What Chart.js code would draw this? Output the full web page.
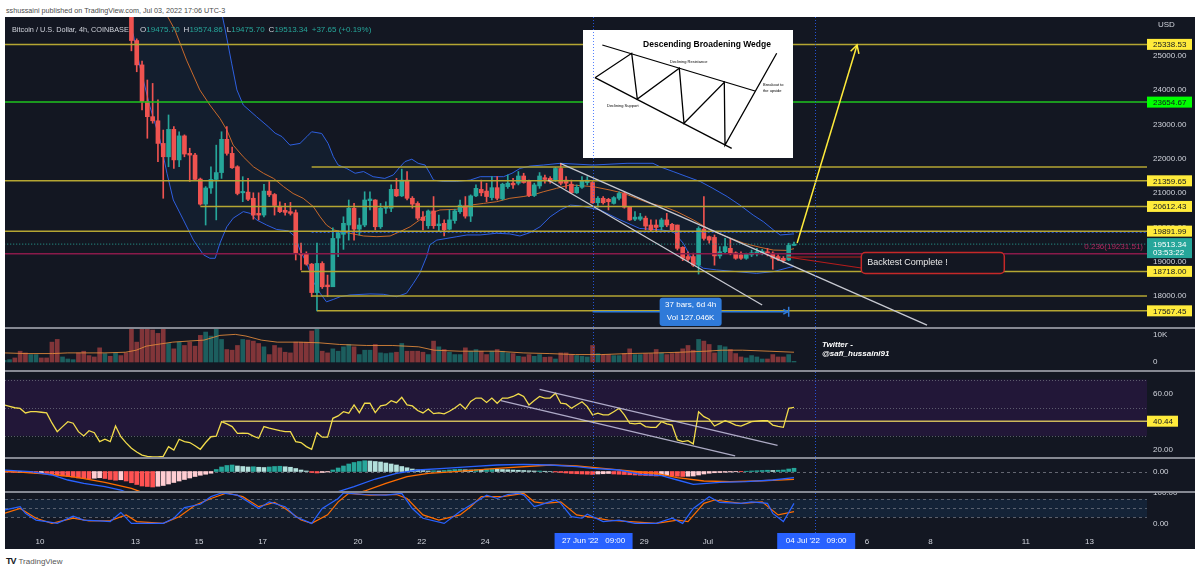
<!DOCTYPE html>
<html>
<head>
<meta charset="utf-8">
<title>BTCUSD 4h - Descending Broadening Wedge</title>
<script src="https://cdn.jsdelivr.net/npm/chart.js@4.4.1/dist/chart.umd.min.js"></script>
<style>
  html, body { margin: 0; padding: 0; width: 1200px; height: 573px; overflow: hidden; background: #fff; font-family: "Liberation Sans", Arial, sans-serif; }
  .abs { position: absolute; white-space: nowrap; z-index: 5; }
  #panel { position: absolute; left: 5px; top: 17px; width: 1190px; height: 532px; background: #131722; }
  canvas { position: absolute; left: 5px; }
  .sep { position: absolute; left: 5px; width: 1190px; height: 2px; background: #868993; }
  #pub { left: 6px; top: 6px; font-size: 7.2px; color: #4a4a4a; }
  #title { left: 12px; top: 25px; font-size: 7.3px; color: #d1d4dc; }
  #ohlc { left: 140px; top: 25px; font-size: 8px; color: #d1d4dc; }
  #ohlc b { font-weight: normal; color: #26a69a; margin-right: 4px; }
  #usd { left: 1158px; top: 20px; font-size: 8px; color: #d1d4dc; }
  #tw { left: 822px; top: 341px; font-size: 8px; line-height: 8.5px; color: #fff; font-weight: bold; font-style: italic; }
  #foot { left: 6px; top: 556px; font-size: 8px; color: #555; }
  #foot b { color: #131722; font-size: 9px; letter-spacing: -1px; margin-right: 3px; }
</style>
</head>
<body>
<div class="abs" id="pub">sshussaini published on TradingView.com, Jul 03, 2022 17:06 UTC-3</div>
<div id="panel"></div>
<canvas id="cMain" width="1189" height="310" style="top:17px"></canvas>
<div class="sep" style="top:327px"></div>
<canvas id="cVol" width="1189" height="41" style="top:329px"></canvas>
<div class="sep" style="top:370px"></div>
<canvas id="cRsi" width="1189" height="85" style="top:372px"></canvas>
<div class="sep" style="top:457px"></div>
<canvas id="cMacd" width="1189" height="32" style="top:459px"></canvas>
<div class="sep" style="top:491px"></div>
<canvas id="cStoch" width="1189" height="56" style="top:493px"></canvas>
<div class="abs" id="title">Bitcoin / U.S. Dollar, 4h, COINBASE</div>
<div class="abs" id="ohlc"></div>
<div class="abs" id="usd">USD</div>
<div class="abs" id="tw">Twitter -<br>@safi_hussaini91</div>
<div class="abs" id="foot"><b>TV</b>TradingView</div>
<script>
// bar index 0 = Jun 8 21:00 (UTC-3), one bar per 4h
const firstCandle = 24; // Jun 12 21:00

const opens = [26300,25450,24740,23670,23230,23110,22450,22060,22860,21970,22670,22160,22110,21410,20680,21150,21400,21600,22570,22160,21770,21010,21030,20850,20410,20360,21060,20960,20620,20500,20460,20430,19240,19240,18930,18100,18950,18320,18270,
  19690,19800,20070,20560,19950,20070,20780,20800,20020,20560,20560,21110,20920,21380,20850,20700,20300,20050,20480,20050,20120,19950,20200,20460,20630,20330,20920,21110,21060,20870,21160,20830,21190,21290,21290,21500,21350,20930,21210,21450,21430,21380,21720,
  21380,21260,21010,21170,21310,21310,20720,20850,20820,20700,20850,20990,20590,20240,20240,20270,20070,20070,20020,20220,20090,20070,19420,19150,19150,18900,19950,19730,19710,19170,19290,19390,19260,19200,19100,19200,19230,19250,19290,19250,19150,19100,19050,19475.70];
const highs = [26600,25500,24850,24300,24200,23720,22840,23280,22940,22790,22700,22310,22160,21440,21190,21770,22400,22790,22940,22340,21800,21480,21430,21010,21010,21260,21340,20990,20750,20700,20730,20510,19540,19290,18950,19540,19000,18610,19990,
  19900,20310,20800,20700,20270,21040,21040,20810,20700,20750,21240,21430,21700,21630,20900,20750,20460,20510,20900,20360,20220,20510,20530,20800,20900,20950,21240,21380,21290,21480,21480,21290,21530,21430,21630,21580,21380,21290,21600,21530,21480,21750,21870,
  21480,21380,21240,21480,21480,21340,20900,20900,20850,20900,21040,21040,20610,20460,20410,20330,20220,20220,20270,20410,20120,20070,19440,19290,19250,20020,20900,19750,19780,19440,19680,19680,19290,19290,19250,19340,19390,19360,19390,19290,19200,19150,19540,19574.86];
const lows = [25150,24540,23430,22600,23040,21920,20850,21770,21720,21770,22060,21340,21380,20650,20070,20990,20220,21430,22110,21720,20950,20750,20780,20240,20220,20310,20900,20360,20430,20360,20360,19050,18760,18900,17980,17567.45,18220,17980,18270,
  19150,19360,19630,19630,19780,20020,20510,19930,19970,20410,20460,20900,20900,20800,20560,20220,19930,19970,19970,19880,19750,19930,20120,20410,20270,20170,20900,20920,20750,20800,20800,20800,21140,21140,21240,21290,20900,20900,21140,21290,21290,21340,21240,
  21140,20990,20990,21140,21240,20700,20590,20680,20510,20680,20800,20560,20200,20200,20200,19930,19880,19880,19930,20020,19880,19340,19030,19000,18860,18640,19630,19540,18900,19100,19260,19200,19070,19070,19070,19150,19170,19200,19170,18780,19030,18970,19030,19475.70];
const closes = [25450,24740,23670,23230,23110,22450,22060,22860,21970,22670,22140,22110,21400,20680,21150,21400,21600,22570,22160,21740,20990,21050,20820,20360,20360,21060,20950,20640,20460,20440,20410,19240,19200,18930,18100,18950,18270,18270,19680,
  19840,20120,20560,19950,20070,20800,20830,20020,20560,20610,21110,20920,21380,20850,20680,20270,20200,20480,20050,20100,19930,20220,20480,20650,20330,20920,21140,21010,20900,21160,20850,21260,21290,21240,21500,21310,20930,21240,21500,21400,21340,21720,21290,
  21290,21010,21170,21360,21380,20720,20850,20720,20750,20870,20990,20590,20220,20300,20310,20040,19930,20000,20220,20070,19930,19390,19100,19070,18900,19970,19680,19630,19170,19290,19440,19250,19100,19100,19230,19260,19290,19310,19230,19100,19070,19030,19475.69,19513.34];

const volumes = [620,870,1500,4000,3370,2750,2750,1500,1500,7360, 8360,1870,1120,870,3370,4000,2370,1870,5240,3120,
  2120,3370,2370,3370,15000,7360,15000,15000,11860,10600, 15000,6860,4870,7360,6120,7360,5870,9860,11100,9610,
  14000,8360,4620,4370,6120,8360,8110,7740,6860,5620, 2750,6120,5240,3620,3370,7360,7360,7360,11480,14000,
  4000,3370,4870,4000,5620,6490,5620,2750,4370,4370, 6490,3370,3120,3370,3620,6860,4000,4000,4000,3620,
  2750,7740,5620,4620,3620,2750,2750,5240,4000,4620, 4000,2750,4000,4620,4000,3370,3120,2120,1870,2750,
  2120,2750,1750,1870,1120,3370,3370,2750,2370,2120, 1870,6120,3120,2750,2750,2370,2370,3120,4870,2750,
  2750,3120,3120,4620,3370,2750,3120,3620,4870,6120, 4370,8360,7740,6490,3370,6120,5620,4620,3120,1870,
  1500,2370,1870,1120,1120,2750,1870,1870,2750,250];
const earlyVolUp = [1,1,0,0,0,1,1,0,0,0,0,1,1,1,0,0,0,0,0,1,0,1,0,0];
const volMa = [[0,3370],[4.1,3120],[9.1,3120],[12,3370],[19,3370],[22.9,3620],[24.9,4370],[26.8,5870],[28.8,6490],[31.8,7360],[34.7,7740],[37.7,8110],[40.7,9860],[43.6,10230],[45.6,9610],[48.5,8110],[51.5,7360],[55.5,7360],[59.4,7110],[63.3,6490],[68.3,6120],[73.2,6120],[78.2,5620],[81.1,4370],[86,4000],[93,4000],[97.9,3370],[102.8,3120],[107.8,2750],[112.7,2750],[117.6,3120],[123.5,3370],[127.5,3620],[132.4,4000],[135.4,4370],[139.3,4370],[144.3,4000],[149,3620]];

const bbUpper = [[24.3,27800],[33,27000],[38,26500],[41.1,26200],[41.7,25760],[42.9,24790],[43.9,24010],[45.1,23570],[47.6,23230],[49.8,22940],[51.1,22750],[52.4,22650],[53.9,22400],[55.8,22450],[57.1,22650],[58,22790],[59.9,22740],[61.1,22450],[62.1,22060],[63,21820],[64.6,21720],[66.2,21580],[67.8,21630],[69.6,21480],[71.8,21430],[73.4,21530],[74.7,21770],[75.6,21920],[76.9,21990],[78.1,21870],[79.4,21820],[80.3,21580],[81,21380],[82.8,21340],[85.4,21340],[87.9,21380],[89.8,21480],[92.3,21480],[94.2,21480],[95.8,21580],[97.3,21720],[99.2,21790],[101.7,21820],[104.9,21870],[111.1,21820],[117.5,21870],[122.4,21870],[123.7,21770],[126.2,21630],[128.8,21480],[131.3,21340],[133.7,21140],[136.4,20900],[138.8,20650],[141.3,20360],[143.2,20170],[145.1,19930],[146.4,19780],[148.8,19810],[149,19810]];
const bbLower = [[24.3,25660],[24.7,25370],[25.6,24690],[27.5,23520],[29.4,22550],[30.7,21580],[31.9,20800],[33.8,20220],[35.7,19630],[37.6,19200],[38.8,19100],[39.8,19100],[40.7,19540],[42,20020],[43.2,20270],[45.1,20460],[46.4,20410],[47.6,20220],[49.5,20070],[51.4,19940],[53.6,19900],[54.9,19730],[55.8,19340],[57.1,18950],[58.3,18420],[59.6,18080],[60.8,17830],[62.1,17900],[63.4,17980],[65.2,18030],[69,18060],[71.5,18050],[74,17980],[75.9,18080],[77.2,18370],[78.4,18660],[79.7,19150],[80.3,19490],[81.6,19630],[85.4,19730],[87.3,19780],[89.8,19780],[92.9,19830],[95.4,19810],[97.3,19750],[99.2,19850],[101.1,20020],[103,20310],[104.9,20510],[106.8,20650],[108.6,20630],[112.4,20510],[116.2,20220],[119.9,19970],[123.7,19930],[126.2,19880],[128.1,19540],[130,19000],[131.9,18810],[134.4,18760],[138.2,18710],[141.9,18660],[145.1,18710],[148.3,18840],[149,18860]];
const bbBasis = [[30.3,26300],[32.2,25760],[34.4,24880],[36.9,24010],[38.8,23570],[40.7,23180],[42,22840],[43.2,22400],[45.1,22060],[47,21770],[48.9,21580],[50.8,21430],[52.7,21190],[54.5,20990],[56.4,20850],[58.3,20610],[59.6,20310],[60.8,20070],[62.1,19930],[63.4,19880],[65.2,19830],[67.8,19750],[70.3,19730],[72.8,19750],[74.7,19880],[76.6,20020],[78.4,20220],[80.3,20410],[82.2,20510],[85.4,20530],[87.9,20650],[90.4,20700],[92.9,20750],[95.4,20850],[97.9,20900],[99.8,20950],[101.7,21040],[104.2,21140],[106.8,21240],[111.1,21190],[114.3,21090],[116.8,21000],[119.3,20850],[121.8,20700],[124.4,20610],[126.9,20460],[130,20220],[133.2,19930],[136.3,19730],[139.5,19540],[142.6,19420],[145.1,19340],[147.6,19330],[149,19380]];

const rsi = [52,51,50,49.5,46.3,47.2,47.2,46.8,46.3,39.2, 33,36.6,40.1,39,33,30,33.7,32.3,25.9,27.6,
  25.9,37,29.4,25,21.2,18.5,16.4,15.5,15,15, 15.5,22.4,20,27.6,26,25.3,23,20.5,25.3,29.4,
  29.8,40.1,38.5,36.6,31.8,32,31.8,29.8,28.3,36.6, 35.5,34.7,33.7,33,33,25.9,25.3,22.4,20.5,32.3,
  29.1,29.1,42.5,44.2,47.2,46.1,52,46.5,53.2,53.2, 46.5,51.3,52,55,53.6,57.4,52,51.3,48,46.3,
  49.1,45.8,46.3,45.6,47.5,49.8,52.6,49.1,54.5,56.9, 56.9,53.8,56.9,53.2,56.9,56.9,58,59.9,58,52,
  55.2,58,56.9,56.9,60.3,53.2,52.7,49.6,52,54.3, 50.8,44.9,46.1,44.9,44.9,47.2,49.6,44.9,39,38.5,
  39,36.6,36.1,36.1,40.1,38.5,37.7,27.1,25.9,26.6, 24.3,47.2,43.7,41.8,37,38.9,40.8,39.4,37.7,37,
  38.5,40.1,40.5,40.8,40.8,37.7,36.8,36.1,49.6,50.2];

const macdHist = [-20,-30,-40,-30,-40,-50,-60,-50,-70,-120, -150,-180,-200,-220,-260,-280,-300,-270,-250,-280,
  -320,-350,-330,-380,-450,-520,-580,-600,-620,-590, -560,-500,-440,-380,-320,-260,-200,-150,-110,-70,
  80,180,240,260,220,200,180,190,170,160, 180,200,210,190,170,120,60,20,-40,-60,
  -40,-20,60,140,220,300,360,400,430,420, 400,380,340,300,260,200,150,100,70,40,
  20,30,20,40,60,80,90,70,60,80, 70,100,110,90,80,70,60,50,40,30,
  20,20,10,0,-20,-40,-60,-80,-90,-100, -110,-120,-100,-90,-80,-100,-110,-120,-130,-140,
  -150,-160,-170,-180,-160,-150,-170,-190,-200,-190, -180,-140,-100,-70,-50,-40,-30,-20,-10,-10,
  10,20,30,40,50,40,50,60,100,130];
const macdLine = [[0,60],[5,-6],[9,-140],[12,-340],[15,-473],[19,-606],[22,-740],[25,-1006],[29,-1340],[34,-1673],[39,-1740],[44,-1606],[49,-1473],[53,-1340],[58,-1140],[62,-873],[66,-606],[70,-300],[74,-73],[78,60],[83,127],[88,193],[93,260],[98,287],[103,260],[108,193],[111,127],[116,60],[120,-113],[124,-167],[127,-340],[130,-513],[135,-433],[140,-406],[145,-340],[149,-246]];
const macdSignal = [[0,20],[9,-113],[14,-246],[19,-433],[24,-673],[29,-1073],[34,-1406],[39,-1606],[44,-1713],[49,-1673],[53,-1540],[58,-1340],[63,-1073],[68,-780],[72,-473],[76,-206],[80,-73],[85,-6],[93,127],[103,260],[108,220],[113,127],[118,20],[123,-73],[127,-246],[132,-380],[137,-406],[142,-380],[149,-313]];

const stochK = [[0,44],[3,55],[4,33],[6,11],[8,6],[10,0],[13,24],[15,11],[18,8],[20,6],[22,36],[24,0],[27,0],[30,0],[32,17],[34,52],[37,63],[39,88],[41,100],[44,93],[46,71],[48,49],[50,71],[53,55],[55,22],[58,0],[60,49],[63,82],[64,100],[68,95],[72,93],[75,99],[77,49],[79,17],[83,0],[86,39],[89,71],[91,93],[93,82],[95,95],[97,99],[98,93],[100,55],[101,60],[104,77],[105,66],[107,22],[109,17],[110,30],[113,6],[116,11],[119,0],[123,0],[126,17],[128,0],[130,49],[133,88],[135,69],[139,66],[141,71],[144,66],[145,33],[147,6],[149,66]];
const stochD = [[0,33],[3,49],[6,17],[9,0],[13,17],[16,8],[20,9],[23,28],[25,6],[30,0],[33,22],[36,60],[39,82],[42,100],[45,88],[48,55],[51,69],[53,49],[56,11],[58,0],[61,28],[63,71],[65,99],[69,93],[74,95],[76,82],[79,28],[82,11],[86,28],[88,55],[90,88],[94,88],[98,99],[100,71],[102,66],[105,71],[108,28],[110,22],[114,11],[118,6],[123,0],[127,11],[129,6],[132,66],[134,77],[139,66],[143,71],[146,28],[149,39]];

// time axis labels (bar index of local midnight)
const dayTicks = [6.75, 24.75, 36.75, 48.75, 66.75, 78.75, 90.75, 120.75, 132.75, 162.75, 174.75, 192.75, 204.75];
const dayLabels = ['10', '13', '15', '17', '20', '22', '24', '29', 'Jul', '6', '8', '11', '13'];
const markBars = [111, 153];
const markLabels = ["27 Jun '22   09:00", "04 Jul '22   09:00"];

// price levels drawn on the chart
const hLevels = [25338.53, 23654.67, 21760, 21359.65, 20612.43, 19891.99, 18718.00, 18000, 17567.45];
const hStart = [0, 0, 58, 0, 37, 0, 56, 58, 59];
const taggedLevels = [25338.53, 21359.65, 20612.43, 19891.99, 18718.00, 17567.45];
const greenLevel = 23654.67;
const fibLevel = 19231.51;
const priceTicks = [18000, 19000, 20000, 21000, 22000, 23000, 24000, 25000];
const rsiLevel = 40.44;

// drawings (bar index, price)
const chanUpper = [[104.9, 21870], [174.1, 17150]];
const chanLower = [[102.6, 21383], [143.0, 17738]];
const arrowPts = [[149.6, 19546], [160.9, 25320]];
const rsiChanUpper = [[101, 63.1], [145.9, 23.3]];
const rsiChanLower = [[93.7, 55], [137.9, 15.8]];
const measure = [111, 148, 17540];

// ---------------------------------------------------------------
Chart.defaults.font.family = '"Liberation Sans", Arial, sans-serif';
Chart.defaults.font.size = 8;
Chart.defaults.color = '#d1d4dc';

const X_MIN = 0.146, X_MAX = 215.6, AXIS_W = 47;
const UP = '#26a69a', DOWN = '#ef5350';
const FONT = '"Liberation Sans", Arial, sans-serif';

const pts = arr => arr.map(p => ({x: p[0], y: p[1]}));
const candleX = opens.map((o, k) => firstCandle + k);
const candleUp = opens.map((o, k) => closes[k] >= o);
const last = closes.length - 1;

// legend text
const chg = closes[last] - closes[last - 1];
document.getElementById('ohlc').innerHTML =
  'O<b>' + opens[last].toFixed(2) + '</b>H<b>' + highs[last].toFixed(2) + '</b>L<b>' + lows[last].toFixed(2) +
  '</b>C<b>' + closes[last].toFixed(2) + '</b><b>+' + chg.toFixed(2) + ' (+' + (chg / closes[last - 1] * 100).toFixed(2) + '%)</b>';

function xAxis(show) {
  return {
    type: 'linear', min: X_MIN, max: X_MAX, bounds: 'data', offset: false, display: show,
    grid: {display: false, drawTicks: false}, border: {display: false},
    afterBuildTicks: s => { s.ticks = dayTicks.map(v => ({value: v})); },
    afterFit: s => { if (show) { s.height = 16; } s.paddingLeft = 0; s.paddingRight = 0; },
    ticks: {autoSkip: false, maxRotation: 0, padding: 4, color: '#d1d4dc', font: {size: 8},
      callback: v => dayLabels[dayTicks.indexOf(v)]}
  };
}
function yAxis(min, max, ticks, fmt) {
  return {
    position: 'right', min: min, max: max, bounds: 'data',
    grid: {display: false, drawTicks: false}, border: {display: false},
    afterBuildTicks: s => { s.ticks = ticks.map(v => ({value: v})); },
    afterFit: s => { s.width = AXIS_W; s.paddingTop = 0; s.paddingBottom = 0; },
    ticks: {autoSkip: false, padding: 6, color: '#d1d4dc', font: {size: 8}, callback: fmt}
  };
}
function options(yMin, yMax, ticks, fmt, showX, pluginOpts) {
  return {
    responsive: false, animation: false, events: [],
    layout: {padding: 0},
    scales: {x: xAxis(showX), y: yAxis(yMin, yMax, ticks, fmt)},
    plugins: Object.assign({legend: {display: false}, tooltip: {enabled: false}}, pluginOpts)
  };
}
function lineSet(data, color, width, extra) {
  return Object.assign({type: 'line', data: data, borderColor: color, borderWidth: width,
    pointRadius: 0, pointHoverRadius: 0, tension: 0, fill: false}, extra || {});
}

function arrowHead(ctx, x0, y0, x1, y1, len) {
  const a = Math.atan2(y1 - y0, x1 - x0);
  ctx.beginPath();
  ctx.moveTo(x1 - len * Math.cos(a - 0.5), y1 - len * Math.sin(a - 0.5));
  ctx.lineTo(x1, y1);
  ctx.lineTo(x1 - len * Math.cos(a + 0.5), y1 - len * Math.sin(a + 0.5));
  ctx.stroke();
}

// vertical dotted date markers
const markers = {
  id: 'markers',
  afterDatasetsDraw(chart) {
    const ctx = chart.ctx, a = chart.chartArea, x = chart.scales.x;
    ctx.save();
    ctx.strokeStyle = 'rgba(41,98,255,0.8)'; ctx.lineWidth = 1; ctx.setLineDash([1, 2]);
    markBars.forEach(b => {
      const px = Math.round(x.getPixelForValue(b)) + 0.5;
      ctx.beginPath(); ctx.moveTo(px, a.top); ctx.lineTo(px, a.bottom); ctx.stroke();
    });
    ctx.restore();
  }
};

// indicator bands and level lines
const bands = {
  id: 'bands',
  beforeDatasetsDraw(chart, args, o) {
    if (!o || !o.levels) return;
    const ctx = chart.ctx, a = chart.chartArea, y = chart.scales.y;
    ctx.save();
    if (o.fill) {
      const t = y.getPixelForValue(o.hi), b = y.getPixelForValue(o.lo);
      ctx.fillStyle = o.fill; ctx.fillRect(a.left, t, a.right - a.left, b - t);
    }
    ctx.strokeStyle = o.color; ctx.lineWidth = 1; ctx.setLineDash(o.dash);
    o.levels.forEach(v => {
      const py = Math.round(y.getPixelForValue(v)) + 0.5;
      ctx.beginPath(); ctx.moveTo(a.left, py); ctx.lineTo(a.right, py); ctx.stroke();
    });
    ctx.restore();
  }
};

// coloured value boxes on the price axis
const axisTags = {
  id: 'axisTags',
  afterDraw(chart, args, o) {
    if (!o || !o.items) return;
    const ctx = chart.ctx, a = chart.chartArea, y = chart.scales.y;
    ctx.save();
    ctx.font = '8px ' + FONT; ctx.textBaseline = 'middle'; ctx.textAlign = 'left';
    o.items.forEach(t => {
      const py = y.getPixelForValue(t.value), w = t.w || 45;
      if (t.sub) {
        ctx.fillStyle = t.bg; ctx.fillRect(a.right, py - 6, w, 20);
        ctx.fillStyle = t.fg; ctx.fillText(t.text, a.right + 6, py + 0.5); ctx.fillText(t.sub, a.right + 6, py + 9);
      } else {
        ctx.fillStyle = t.bg; ctx.fillRect(a.right, py - 5.5, w, 11);
        ctx.fillStyle = t.fg; ctx.fillText(t.text, a.right + 6, py + 0.5);
      }
    });
    ctx.restore();
  }
};

// highlighted dates on the time axis
const xTags = {
  id: 'xTags',
  afterDraw(chart) {
    const ctx = chart.ctx, a = chart.chartArea, x = chart.scales.x;
    ctx.save();
    ctx.font = '8px ' + FONT; ctx.textAlign = 'center'; ctx.textBaseline = 'middle';
    markBars.forEach((b, k) => {
      const px = x.getPixelForValue(b);
      ctx.fillStyle = '#2962ff'; ctx.fillRect(px - 38, a.bottom, 78, 16);
      ctx.fillStyle = '#ffffff'; ctx.fillText(markLabels[k], px + 1, a.bottom + 8);
    });
    ctx.restore();
  }
};

// drawings on the price pane
const mainDecor = {
  id: 'mainDecor',
  afterDatasetsDraw(chart) {
    const ctx = chart.ctx, a = chart.chartArea, x = chart.scales.x, y = chart.scales.y;
    ctx.save();

    // fib label
    ctx.font = '8px ' + FONT; ctx.fillStyle = '#b3265e'; ctx.textAlign = 'right'; ctx.textBaseline = 'middle';
    ctx.fillText('0.236(' + fibLevel.toFixed(2) + ')', a.right - 4, y.getPixelForValue(fibLevel) - 7);

    // arrow head
    ctx.strokeStyle = '#ffeb3b'; ctx.lineWidth = 1.5;
    arrowHead(ctx, x.getPixelForValue(arrowPts[0][0]), y.getPixelForValue(arrowPts[0][1]),
      x.getPixelForValue(arrowPts[1][0]), y.getPixelForValue(arrowPts[1][1]), 9);

    // measure tool
    const m0 = x.getPixelForValue(measure[0]), m1 = x.getPixelForValue(measure[1]), my = y.getPixelForValue(measure[2]);
    ctx.strokeStyle = '#2f7ad9'; ctx.lineWidth = 1.5;
    ctx.beginPath(); ctx.moveTo(m0, my); ctx.lineTo(m1, my); ctx.stroke();
    ctx.beginPath(); ctx.moveTo(m1, my - 5); ctx.lineTo(m1, my + 5); ctx.stroke();
    arrowHead(ctx, m0, my, m1 - 1, my, 5);
    const bx = (m0 + m1) / 2, n = measure[1] - measure[0];
    ctx.fillStyle = '#2f7ad9';
    ctx.beginPath(); ctx.roundRect(bx - 31, my - 14, 62, a.bottom - my + 13, 3); ctx.fill();
    ctx.fillStyle = '#ffffff'; ctx.textAlign = 'center';
    ctx.fillText(n + ' bars, ' + Math.floor(n * 4 / 24) + 'd ' + (n * 4 % 24) + 'h', bx, my - 7);
    ctx.fillText('Vol 127.046K', bx, my + 6);

    // callout
    const ax = x.getPixelForValue(147.7), ay = y.getPixelForValue(19137);
    const cx = x.getPixelForValue(161.7), cy = y.getPixelForValue(19269);
    ctx.strokeStyle = '#b71c1c'; ctx.lineWidth = 1.2;
    ctx.beginPath(); ctx.moveTo(ax, ay); ctx.lineTo(cx, cy + 4.5); ctx.moveTo(ax, ay); ctx.lineTo(cx, cy + 15.5); ctx.stroke();
    ctx.fillStyle = '#131722'; ctx.strokeStyle = '#c62828'; ctx.lineWidth = 1.5;
    ctx.beginPath(); ctx.roundRect(cx, cy, 143, 21, 4); ctx.fill(); ctx.stroke();
    ctx.fillStyle = '#e8e8e8'; ctx.textAlign = 'left'; ctx.font = '9px ' + FONT;
    ctx.fillText('Backtest Complete !', cx + 6, cy + 10.5);

    // pattern picture
    const ox = a.left + 578, oy = a.top + 13;
    ctx.fillStyle = '#ffffff'; ctx.fillRect(ox, oy, 210, 128);
    ctx.strokeStyle = '#000000'; ctx.lineWidth = 1.3;
    const seg = (p) => { ctx.beginPath(); ctx.moveTo(ox + p[0], oy + p[1]); for (let k = 2; k < p.length; k += 2) ctx.lineTo(ox + p[k], oy + p[k + 1]); ctx.stroke(); };
    seg([19.3, 15, 172, 61]);
    seg([12, 47.7, 148.7, 118.3]);
    seg([12, 47.7, 48.7, 23.3, 54.3, 69, 96.3, 38.3, 101, 93.3, 141.3, 52.3, 142, 115, 193.7, 23.3]);
    ctx.fillStyle = '#000000'; ctx.textAlign = 'center'; ctx.font = 'bold 8.5px ' + FONT;
    ctx.fillText('Descending Broadening Wedge', ox + 124, oy + 15);
    ctx.font = '4px ' + FONT; ctx.textAlign = 'left';
    ctx.fillText('Declining Resistance', ox + 87, oy + 32);
    ctx.fillText('Declining Support', ox + 24, oy + 76);
    ctx.fillText('Breakout to', ox + 180, oy + 55);
    ctx.fillText('the upside', ox + 180, oy + 60.5);

    ctx.restore();
  }
};

// ---------------- price pane ----------------
const mainSets = [
  lineSet(pts(bbUpper), '#2f5fe0', 1, {order: 9}),
  lineSet(pts(bbLower), '#2f5fe0', 1, {order: 8, fill: '-1', backgroundColor: 'rgba(33,150,243,0.06)'}),
  lineSet(pts(bbBasis), '#c8692b', 1, {order: 7}),
  {type: 'bar', data: candleX.map((x, k) => ({x: x, y: [lows[k], highs[k]]})), grouped: false, barThickness: 1,
    backgroundColor: c => candleUp[c.dataIndex] ? UP : DOWN, order: 6},
  {type: 'bar', data: candleX.map((x, k) => ({x: x, y: [opens[k], closes[k]]})), grouped: false, barThickness: 4, minBarLength: 1,
    backgroundColor: c => candleUp[c.dataIndex] ? UP : DOWN, order: 5}
];
hLevels.forEach((lv, k) => {
  mainSets.push(lineSet([{x: hStart[k], y: lv}, {x: X_MAX, y: lv}], lv === greenLevel ? '#1fc41f' : '#b5a633', 1.5, {order: 3}));
});
mainSets.push(lineSet([{x: 0, y: fibLevel}, {x: X_MAX, y: fibLevel}], '#8a1a4a', 1.5, {order: 3}));
mainSets.push(lineSet([{x: 58, y: 19865}, {x: X_MAX, y: 19865}], '#2962ff', 1.2, {order: 3, borderDash: [2, 2]}));
mainSets.push(lineSet([{x: 0, y: closes[last]}, {x: X_MAX, y: closes[last]}], '#26a69a', 1, {order: 3, borderDash: [1, 2]}));
mainSets.push(lineSet(pts(chanUpper), '#c7c9d1', 1.3, {order: 2}));
mainSets.push(lineSet(pts(chanLower), '#c7c9d1', 1.3, {order: 2}));
mainSets.push(lineSet(pts(arrowPts), '#ffeb3b', 1.5, {order: 1}));

const priceTags = taggedLevels.map(v => ({value: v, text: v.toFixed(2), bg: '#ffeb3b', fg: '#131722'}));
priceTags.push({value: greenLevel, text: greenLevel.toFixed(2), bg: '#00ff00', fg: '#131722'});
priceTags.push({value: closes[last], text: closes[last].toFixed(2), sub: '03:53:22', bg: '#26a69a', fg: '#ffffff'});

new Chart(document.getElementById('cMain'), {
  type: 'bar',
  data: {datasets: mainSets},
  options: options(17096, 26137, priceTicks, v => v.toFixed(2), false, {axisTags: {items: priceTags}}),
  plugins: [mainDecor, markers, axisTags]
});

// ---------------- volume ----------------
const volUp = i => i < firstCandle ? earlyVolUp[i] === 1 : candleUp[i - firstCandle];
new Chart(document.getElementById('cVol'), {
  type: 'bar',
  data: {datasets: [
    lineSet(pts(volMa), 'rgba(230,140,60,0.85)', 1, {order: 0}),
    {type: 'bar', data: volumes.map((v, i) => ({x: i, y: v})), grouped: false, barThickness: 4,
      backgroundColor: c => volUp(c.dataIndex) ? 'rgba(38,166,154,0.5)' : 'rgba(239,83,80,0.5)', order: 1}
  ]},
  options: options(-2963, 12222, [0, 10000], v => v === 0 ? '0' : '10K', false, {}),
  plugins: [markers]
});

// ---------------- RSI ----------------
new Chart(document.getElementById('cRsi'), {
  type: 'line',
  data: {datasets: [
    lineSet(rsi.map((v, i) => ({x: i, y: v})), '#f2dc4b', 1.3, {order: 2}),
    lineSet([{x: 41.2, y: rsiLevel}, {x: X_MAX, y: rsiLevel}], '#cdb95a', 1.5, {order: 3}),
    lineSet(pts(rsiChanUpper), 'rgba(200,196,225,0.85)', 1.3, {order: 1}),
    lineSet(pts(rsiChanLower), 'rgba(200,196,225,0.85)', 1.3, {order: 1})
  ]},
  options: options(15.0, 75.4, [20, 40, 60], v => v.toFixed(2), false, {
    bands: {fill: 'rgba(120,30,190,0.15)', hi: 70, lo: 30, levels: [70, 50, 30], color: 'rgba(120,123,134,0.7)', dash: [1, 2]},
    axisTags: {items: [{value: rsiLevel, text: rsiLevel.toFixed(2), bg: '#ffeb3b', fg: '#131722', w: 31}]}
  }),
  plugins: [bands, markers, axisTags]
});

// ---------------- MACD ----------------
const histColor = i => {
  const v = macdHist[i], p = i > 0 ? macdHist[i - 1] : v;
  if (v >= 0) return v >= p ? '#26a69a' : '#b2dfdb';
  return v <= p ? '#ff5252' : '#ffcdd2';
};
new Chart(document.getElementById('cMacd'), {
  type: 'bar',
  data: {datasets: [
    lineSet(pts(macdLine), '#2962ff', 1.3, {order: 0}),
    lineSet(pts(macdSignal), '#ff6d00', 1.3, {order: 0}),
    {type: 'bar', data: macdHist.map((v, i) => ({x: i, y: v})), grouped: false, barThickness: 4,
      backgroundColor: c => histColor(c.dataIndex), order: 1}
  ]},
  options: options(-780, 500, [0], v => v.toFixed(2), false, {
    bands: {levels: [0], color: 'rgba(120,123,134,0.8)', dash: [3, 3]}
  }),
  plugins: [bands, markers]
});

// ---------------- Stoch RSI + time axis ----------------
new Chart(document.getElementById('cStoch'), {
  type: 'line',
  data: {datasets: [
    lineSet(pts(stochK), '#2962ff', 1.2, {order: 0}),
    lineSet(pts(stochD), '#ff6d00', 1.2, {order: 1})
  ]},
  options: options(-31.6, 100, [0, 100], v => v.toFixed(2), true, {
    bands: {fill: 'rgba(33,150,243,0.1)', hi: 80, lo: 20, levels: [80, 50, 20], color: 'rgba(120,123,134,0.7)', dash: [3, 3]}
  }),
  plugins: [bands, markers, xTags]
});
</script>
</body>
</html>
